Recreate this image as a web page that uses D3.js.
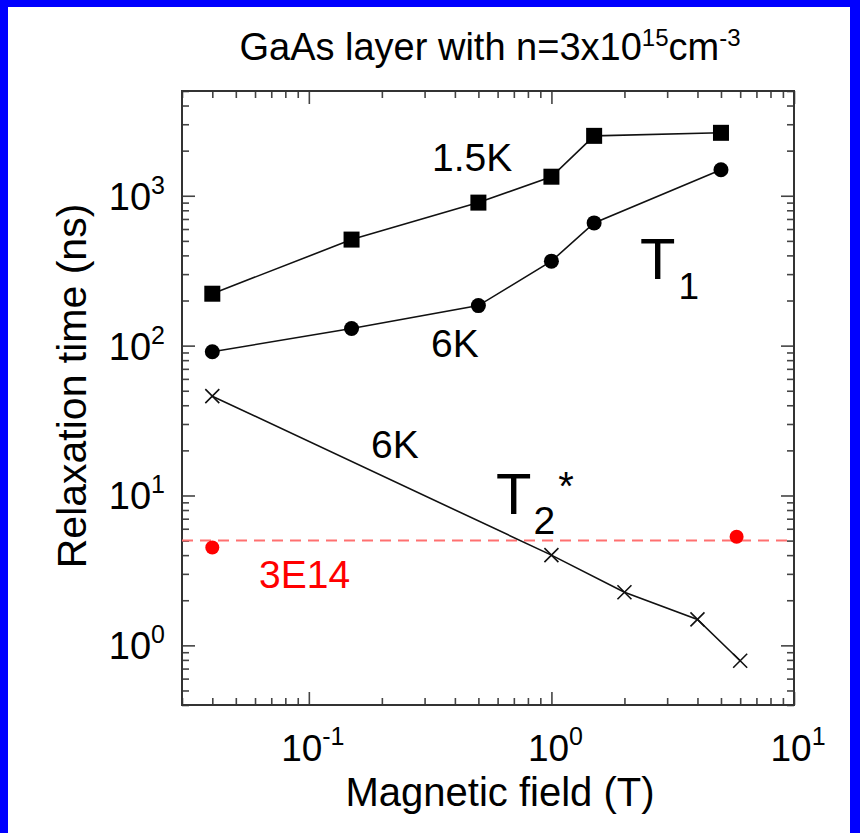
<!DOCTYPE html>
<html>
<head>
<meta charset="utf-8">
<script src="https://cdn.jsdelivr.net/npm/d3@7"></script>
<style>
  html, body { margin: 0; padding: 0; background: #fff; }
  svg { display: block; font-family: "Liberation Sans", Arial, Helvetica, sans-serif; }
</style>
</head>
<body>
<svg id="chart" width="860" height="833"></svg>
<script>
// values
const fieldT1 = [0.04, 0.15, 0.5, 1.0, 1.5, 5.0];
const t1At15K = [222, 510, 900, 1340, 2510, 2630];
const t1At6K = [91, 130, 185, 366, 659, 1490];
const fieldT2 = [0.04, 1.0, 2.0, 4.0, 6.0];
const t2At6K = [46, 4.0, 2.26, 1.49, 0.79];
const fieldLowN = [0.04, 5.8];
const t2LowN = [4.5, 5.3];
const lowNLevel = 5.0;
const xMajor = [0.1, 1, 10];
const xExp = ["-1", "0", "1"];
const yMajor = [1, 10, 100, 1000];
const yExp = ["0", "1", "2", "3"];

var W = 860, H = 833,
    m = {left: 182, top: 91, right: 794, bottom: 705};

var svg = d3.select("#chart");

// blue frame of the slide
svg.append("rect").attr("x", 0).attr("y", 0).attr("width", 8).attr("height", H).attr("fill", "#0000ff");
svg.append("rect").attr("x", 0).attr("y", 0).attr("width", W).attr("height", 7).attr("fill", "#0000ff");
svg.append("rect").attr("x", 850).attr("y", 0).attr("width", 10).attr("height", H).attr("fill", "#0000ff");

var x = d3.scaleLog().domain([0.03, 10]).range([m.left, m.right]);
var y = d3.scaleLog().domain([0.4, 5000]).range([m.bottom, m.top]);

// minor ticks: 2..9 in every decade inside the domain
function minors(scale) {
    var d = scale.domain(), out = [];
    for (var e = -2; e <= 4; e++) {
        for (var k = 2; k <= 9; k++) {
            var v = k * Math.pow(10, e);
            if (v >= d[0] * 0.999 && v <= d[1] * 1.001) out.push(v);
        }
    }
    return out;
}

function tickAxis(axisFn, scale, vals, len, tr) {
    var g = svg.append("g").attr("transform", tr)
        .call(axisFn(scale).tickValues(vals).tickSize(len).tickFormat(""));
    g.select(".domain").remove();
    g.selectAll("line").attr("stroke", "#444").attr("stroke-width", 1.6);
    return g;
}

var H_PLOT = m.bottom - m.top;
// bottom & top
tickAxis(d3.axisBottom, x, xMajor, -13, "translate(0," + m.bottom + ")");
tickAxis(d3.axisBottom, x, minors(x), -7, "translate(0," + m.bottom + ")");
tickAxis(d3.axisTop, x, xMajor, -13, "translate(0," + m.top + ")");
tickAxis(d3.axisTop, x, minors(x), -7, "translate(0," + m.top + ")");
// left & right
tickAxis(d3.axisLeft, y, yMajor, -13, "translate(" + m.left + ",0)");
tickAxis(d3.axisLeft, y, minors(y), -7, "translate(" + m.left + ",0)");
tickAxis(d3.axisRight, y, yMajor, -13, "translate(" + m.right + ",0)");
tickAxis(d3.axisRight, y, minors(y), -7, "translate(" + m.right + ",0)");

svg.append("rect")
    .attr("x", m.left).attr("y", m.top)
    .attr("width", m.right - m.left).attr("height", H_PLOT)
    .attr("fill", "none").attr("stroke", "#333").attr("stroke-width", 2);

// tick labels with superscript exponents
function powLabel(sel, exp) {
    sel.append("tspan").text("10");
    sel.append("tspan").attr("dy", -16).attr("font-size", 25).text(exp);
}
xMajor.forEach(function(v, i) {
    var t = svg.append("text").attr("x", x(v) + 4).attr("y", 761)
        .attr("text-anchor", "middle").attr("font-size", 37).attr("fill", "#000");
    powLabel(t, xExp[i]);
});
yMajor.forEach(function(v, i) {
    var t = svg.append("text").attr("x", 165).attr("y", y(v) + 14)
        .attr("text-anchor", "end").attr("font-size", 38).attr("fill", "#000");
    powLabel(t, yExp[i]);
});

// titles
var title = svg.append("text").attr("x", 490).attr("y", 60)
    .attr("text-anchor", "middle").attr("font-size", 38);
title.append("tspan").text("GaAs layer with n=3x10");
title.append("tspan").attr("dy", -14).attr("font-size", 24).text("15");
title.append("tspan").attr("dy", 14).text("cm");
title.append("tspan").attr("dy", -14).attr("font-size", 24).text("-3");

svg.append("text").attr("x", 500).attr("y", 806)
    .attr("text-anchor", "middle").attr("font-size", 40)
    .text("Magnetic field (T)");

svg.append("text")
    .attr("transform", "translate(86,386) rotate(-90)")
    .attr("text-anchor", "middle").attr("font-size", 41)
    .text("Relaxation time (ns)");

// red 3E14 reference
svg.append("line")
    .attr("x1", m.left).attr("x2", m.right)
    .attr("y1", y(lowNLevel)).attr("y2", y(lowNLevel))
    .attr("stroke", "#ff7070").attr("stroke-width", 2)
    .attr("stroke-dasharray", "11,7");

var line = d3.line().x(function(d) { return x(d[0]); }).y(function(d) { return y(d[1]); });

function series(xs, ys) { return xs.map(function(v, i) { return [v, ys[i]]; }); }

var sq = series(fieldT1, t1At15K),
    ci = series(fieldT1, t1At6K),
    cr = series(fieldT2, t2At6K),
    rd = series(fieldLowN, t2LowN);

[sq, ci, cr].forEach(function(s) {
    svg.append("path").datum(s).attr("d", line)
        .attr("fill", "none").attr("stroke", "#111").attr("stroke-width", 1.6);
});

svg.selectAll(".sq").data(sq).enter().append("rect")
    .attr("x", function(d) { return x(d[0]) - 8; })
    .attr("y", function(d) { return y(d[1]) - 8; })
    .attr("width", 16).attr("height", 16).attr("fill", "#000");

svg.selectAll(".ci").data(ci).enter().append("circle")
    .attr("cx", function(d) { return x(d[0]); })
    .attr("cy", function(d) { return y(d[1]); })
    .attr("r", 7.5).attr("fill", "#000");

svg.selectAll(".cr").data(cr).enter().append("path")
    .attr("d", function(d) {
        var cx = x(d[0]), cy = y(d[1]), r = 7;
        return "M" + (cx - r) + "," + (cy - r) + "L" + (cx + r) + "," + (cy + r) +
               "M" + (cx - r) + "," + (cy + r) + "L" + (cx + r) + "," + (cy - r);
    })
    .attr("stroke", "#111").attr("stroke-width", 1.6);

svg.selectAll(".rd").data(rd).enter().append("circle")
    .attr("cx", function(d) { return x(d[0]); })
    .attr("cy", function(d) { return y(d[1]); })
    .attr("r", 7).attr("fill", "#ff0000");

// annotations
svg.append("text").attr("x", 432).attr("y", 171).attr("font-size", 39).text("1.5K");
svg.append("text").attr("x", 431).attr("y", 357).attr("font-size", 39).text("6K");
svg.append("text").attr("x", 371).attr("y", 458).attr("font-size", 39).text("6K");
svg.append("text").attr("x", 259).attr("y", 588).attr("font-size", 39)
    .attr("fill", "#ff0000").text("3E14");

var t1 = svg.append("text").attr("x", 640).attr("y", 279).attr("font-size", 58);
t1.append("tspan").text("T");
t1.append("tspan").attr("dy", 20).attr("dx", 3).attr("font-size", 37).text("1");

var t2 = svg.append("text").attr("x", 496).attr("y", 514).attr("font-size", 58);
t2.append("tspan").text("T");
t2.append("tspan").attr("dy", 20).attr("dx", 2).attr("font-size", 39).text("2");
t2.append("tspan").attr("dy", -34).attr("dx", 3).attr("font-size", 40).text("*");
</script>
</body>
</html>
